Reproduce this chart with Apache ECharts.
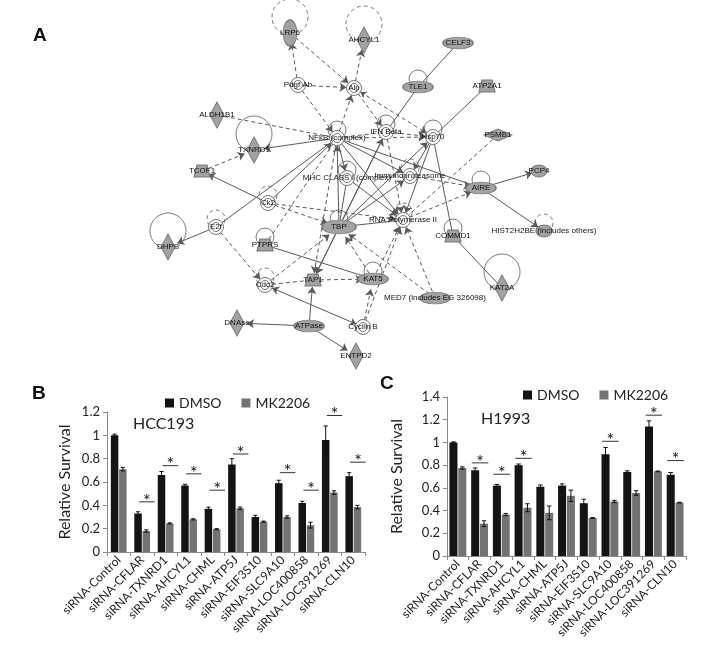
<!DOCTYPE html>
<html><head><meta charset="utf-8">
<script src="https://cdn.jsdelivr.net/npm/echarts@6/dist/echarts.min.js"></script>
<style>html,body{margin:0;padding:0;background:#fff}#c{width:703px;height:648px}</style>
</head><body><div id="c"></div>
<script>
// ---------- Panel A: network ----------
const nodes = ['LRP6','AHCYL1','CELF3','TLE1','ATP2A1','Pdgf Ab','Alp','ALDH1B1','TXNRD1','NFkB (complex)','IFN Beta','Hsp70','PSMB1','TCOF1','MHC CLASS I (complex)','Immunoproteasome','Ck2','E2f','DHPS','PTPRS','TBP','RNA Polymerase II','COMMD1','AIRE','PCP4','HIST2H2BE (includes others)','KAT2A','MED7 (includes EG 326098)','Cdc2','TAP1','KAT5','DNAse','ATPase','Cyclin B','ENTPD2'];
const nodeX = [290,364,458,418,487,298,354,217,254,337,386,433,498,202,347,410,268,216,168,265,339,403,453,481,539,544,502,435,265,313,373,237,309,363,356];
const nodeY = [33,40,43,87,86,85,88,115,150,138,132,137,135,171,178,176,203,227,247,245,227,220,236,188,171,231,288,298,285,280,279,323,326,327,356];
const nodeKind = ['vellipse','diamond','ellipse','ellipse','trap','ring','ring','diamond','diamond','ring','ring','ring','hdiamond','trap','ring','ring','ring','ring','diamond','trap','bigellipse','ring','trap','ellipse','smallellipse','smallellipse','diamond','ellipse','ring','trap','ellipse','diamond','ellipse','ring','diamond'];
const bigDashedLoops = ['LRP6','AHCYL1'];
const bigSolidLoops = ['TXNRD1','DHPS','KAT2A'];
const smallSolidLoops = ['TLE1','NFkB (complex)','IFN Beta','Hsp70','PTPRS','TBP','COMMD1','AIRE','KAT5','MHC CLASS I (complex)'];
const smallDashedLoops = ['Ck2','E2f','Cdc2','HIST2H2BE (includes others)','RNA Polymerase II','Immunoproteasome'];
const edges = [
 ['Pdgf Ab','LRP6','dashed','to'],['Pdgf Ab','Alp','dashed','to'],['LRP6','Alp','dashed','to'],
 ['Alp','AHCYL1','dashed','to'],['NFkB (complex)','Alp','dashed','to'],['Pdgf Ab','NFkB (complex)','dashed','to'],
 ['Alp','Hsp70','dashed','both'],['Alp','IFN Beta','dashed','to'],['CELF3','TLE1','solid','none'],
 ['TLE1','IFN Beta','solid','none'],['ATP2A1','Hsp70','solid','none'],['PSMB1','RNA Polymerase II','dashed','none'],
 ['ALDH1B1','NFkB (complex)','dashed','none'],['NFkB (complex)','TXNRD1','solid','to'],['TCOF1','TXNRD1','dashed','to'],
 ['Ck2','TCOF1','solid','to'],['NFkB (complex)','IFN Beta','dashed','none'],['IFN Beta','Hsp70','dashed','to'],
 ['NFkB (complex)','Hsp70','dashed','to'],['NFkB (complex)','MHC CLASS I (complex)','solid','to'],
 ['NFkB (complex)','Immunoproteasome','solid','to'],['NFkB (complex)','RNA Polymerase II','solid','to'],
 ['TBP','NFkB (complex)','solid','to'],['NFkB (complex)','TAP1','dashed','to'],['Ck2','NFkB (complex)','solid','to'],
 ['E2f','NFkB (complex)','solid','none'],['E2f','DHPS','solid','to'],['E2f','Cdc2','dashed','to'],
 ['Ck2','TBP','dashed','to'],['Ck2','RNA Polymerase II','dashed','to'],['PTPRS','NFkB (complex)','dashed','none'],
 ['PTPRS','KAT5','solid','none'],['TBP','MHC CLASS I (complex)','solid','none'],['TBP','Immunoproteasome','solid','to'],
 ['TBP','IFN Beta','solid','to'],['TBP','Hsp70','solid','to'],['TBP','RNA Polymerase II','solid','none'],
 ['TBP','TAP1','solid','to'],['MED7 (includes EG 326098)','TBP','dashed','to'],['KAT5','TBP','dashed','to'],
 ['TAP1','KAT5','dashed','to'],['Cdc2','TAP1','dashed','none'],['Cdc2','TBP','dashed','to'],
 ['Cyclin B','Cdc2','solid','both'],['ATPase','TAP1','solid','to'],['ATPase','DNAse','solid','to'],
 ['ATPase','ENTPD2','solid','to'],['KAT5','RNA Polymerase II','dashed','to'],['Cyclin B','KAT5','dashed','to'],
 ['Cyclin B','RNA Polymerase II','dashed','to'],['MED7 (includes EG 326098)','RNA Polymerase II','dashed','to'],
 ['RNA Polymerase II','AIRE','dashed','to'],['Immunoproteasome','AIRE','dashed','to'],['NFkB (complex)','AIRE','solid','none'],
 ['Hsp70','COMMD1','solid','none'],['AIRE','PCP4','solid','to'],['AIRE','HIST2H2BE (includes others)','solid','to'],
 ['COMMD1','KAT2A','solid','none'],['IFN Beta','RNA Polymerase II','dashed','to'],['Hsp70','RNA Polymerase II','solid','to'],
 ['Hsp70','Immunoproteasome','solid','to'],['MHC CLASS I (complex)','RNA Polymerase II','solid','to'],['IFN Beta','TAP1','solid','to']
];

// ---------- Panels B & C: bars ----------
const categories = ['siRNA-Control','siRNA-CFLAR','siRNA-TXNRD1','siRNA-AHCYL1','siRNA-CHML','siRNA-ATP5J','siRNA-EIF3S10','siRNA-SLC9A10','siRNA-LOC400858','siRNA-LOC391269','siRNA-CLN10'];
const hccDMSO = [1.00,0.33,0.66,0.57,0.37,0.75,0.30,0.59,0.42,0.96,0.65];
const hccDMSOErr = [0.01,0.015,0.03,0.01,0.015,0.05,0.015,0.025,0.015,0.12,0.03];
const hccMK = [0.71,0.18,0.245,0.28,0.195,0.375,0.26,0.30,0.23,0.51,0.385];
const hccMKErr = [0.015,0.01,0.005,0.005,0.005,0.01,0.005,0.01,0.025,0.015,0.015];
const hccSig = [null,0.43,0.74,0.67,0.53,0.84,null,0.68,0.53,1.17,0.77];
const hDMSO = [1.00,0.755,0.62,0.80,0.61,0.62,0.465,0.895,0.74,1.14,0.715];
const hDMSOErr = [0.005,0.02,0.01,0.01,0.015,0.015,0.035,0.06,0.01,0.05,0.02];
const hMK = [0.775,0.285,0.365,0.425,0.38,0.53,0.335,0.48,0.555,0.745,0.47];
const hMKErr = [0.01,0.025,0.01,0.035,0.06,0.05,0.003,0.01,0.02,0.003,0.003];
const hSig = [null,0.82,0.72,0.86,null,null,null,1.01,null,1.24,0.84];
const yTicksB = {min:0,max:1.2,interval:0.2};
const yTicksC = {min:0,max:1.4,interval:0.2};

// ---------- styles ----------
const FONT = 'Lato';
const NODE_FILL = '#a2a2a2', NODE_BORDER = '#777';
const ringPath = 'path://M0,10 A10,10 0 1,1 20,10 A10,10 0 1,1 0,10 Z M4,10 A6,6 0 1,1 16,10 A6,6 0 1,1 4,10 Z';
const trapPath = 'path://M3,0 L13,0 L16,12 L0,12 Z';
const kindStyle = {
  ellipse:{symbol:'circle',size:[30,12],fill:NODE_FILL},
  bigellipse:{symbol:'circle',size:[34,14],fill:NODE_FILL},
  smallellipse:{symbol:'circle',size:[16,12],fill:NODE_FILL},
  vellipse:{symbol:'circle',size:[14,26],fill:NODE_FILL},
  diamond:{symbol:'diamond',size:[14,26],fill:NODE_FILL},
  hdiamond:{symbol:'diamond',size:[28,12],fill:NODE_FILL},
  ring:{symbol:ringPath,size:[15,15],fill:'#ffffff'},
  trap:{symbol:trapPath,size:[16,12],fill:NODE_FILL}
};
const nodeData = nodes.map((n,i)=>{
  const k = kindStyle[nodeKind[i]];
  return {name:n, value:[nodeX[i],nodeY[i]], symbol:k.symbol, symbolSize:k.size,
    itemStyle:{color:k.fill,borderColor:NODE_BORDER,borderWidth:1}};
});
const linkData = edges.map(e=>({source:e[0],target:e[1],
  symbol: e[3]==='to'?['none','arrow']:(e[3]==='both'?['arrow','arrow']:['none','none']),
  lineStyle:{type: e[2]==='dashed'?[4,3]:'solid'}}));
function loopPts(list){return list.map(n=>{const i=nodes.indexOf(n);return [nodeX[i],nodeY[i]];});}
function loopSeries(list,size,off,dashed){
  return {type:'scatter',xAxisIndex:0,yAxisIndex:0,data:loopPts(list),symbol:'circle',symbolSize:size,
    symbolOffset:[0,off],silent:true,z:1,
    itemStyle:{color:'rgba(0,0,0,0)',borderColor:'#5a5a5a',borderWidth:1,borderType:dashed?[4,3]:'solid'}};
}

function errSeries(xi,yi,vals,errs,sign,barFrac,gapFrac){
  return {type:'custom',xAxisIndex:xi,yAxisIndex:yi,silent:true,z:5,
    data: vals.map((v,i)=>[i,v,errs[i]]),
    encode:{x:0,y:1},
    renderItem:function(params,api){
      const i=api.value(0),v=api.value(1),e=api.value(2);
      const band=api.size([1,0])[0];
      const w=band*barFrac, shift=(w+w*gapFrac)/2*sign;
      const t=api.coord([i,v+e]), b=api.coord([i,v-e]);
      const x=t[0]+shift, cap=w*0.28;
      const st={stroke:'#111',lineWidth:1};
      return {type:'group',children:[
        {type:'line',shape:{x1:x,y1:t[1],x2:x,y2:b[1]},style:st},
        {type:'line',shape:{x1:x-cap,y1:t[1],x2:x+cap,y2:t[1]},style:st},
        {type:'line',shape:{x1:x-cap,y1:b[1],x2:x+cap,y2:b[1]},style:st}]};
    }};
}
function sigSeries(xi,yi,sig,centerOff,halfLen){
  const d=[];sig.forEach((s,i)=>{if(s!==null)d.push([i,s]);});
  return {type:'custom',xAxisIndex:xi,yAxisIndex:yi,silent:true,z:5,data:d,encode:{x:0,y:1},
    renderItem:function(params,api){
      const p=api.coord([api.value(0),api.value(1)]);
      const band=api.size([1,0])[0];
      const cx=p[0]+band*centerOff;
      return {type:'group',children:[
        {type:'line',shape:{x1:cx-band*halfLen,y1:p[1],x2:cx+band*halfLen,y2:p[1]},style:{stroke:'#333',lineWidth:1}},
        {type:'text',style:{text:'*',x:cx,y:p[1]-1,align:'center',verticalAlign:'middle',fontSize:18,fontFamily:FONT,fill:'#111'}}]};
    }};
}
function catAxis(gi){
  return {type:'category',gridIndex:gi,data:categories,
    axisLine:{lineStyle:{color:'#8a8a8a'}},axisTick:{show:true,length:4,lineStyle:{color:'#8a8a8a'}},
    axisLabel:{rotate:45,interval:0,fontSize:12,color:'#222',fontFamily:FONT,margin:6}};
}
function valAxis(gi,t,gap){
  return {type:'value',gridIndex:gi,min:t.min,max:t.max,interval:t.interval,
    name:'Relative Survival',nameLocation:'middle',nameGap:gap,
    nameTextStyle:{fontSize:16,color:'#222',fontFamily:FONT},
    axisLine:{show:true,lineStyle:{color:'#8a8a8a'}},axisTick:{show:true,length:4,lineStyle:{color:'#8a8a8a'}},
    splitLine:{show:false},axisLabel:{fontSize:13,color:'#222',fontFamily:FONT,margin:7}};
}
const DMSO_C='#141414', MK_C='#737373';
const B_BAR='32%', C_BAR='37%';

const option = {
  animation:false,
  backgroundColor:'#fff',
  grid:[
    {left:0,top:0,width:703,height:370},
    {left:107,top:412,width:258,height:140},
    {left:447,top:397,width:239,height:159}
  ],
  xAxis:[
    {type:'value',gridIndex:0,min:0,max:703,show:false},
    catAxis(1),catAxis(2)
  ],
  yAxis:[
    {type:'value',gridIndex:0,min:0,max:370,inverse:true,show:false},
    valAxis(1,yTicksB,34),valAxis(2,yTicksC,42)
  ],
  legend:[
    {left:160,top:391,itemWidth:9,itemHeight:9,itemGap:20,icon:'rect',data:['DMSO','MK2206'],
      textStyle:{fontSize:14,color:'#222',fontFamily:FONT}},
    {left:518,top:383,itemWidth:9,itemHeight:9,itemGap:20,icon:'rect',data:['DMSO','MK2206'],
      textStyle:{fontSize:14,color:'#222',fontFamily:FONT}}
  ],
  graphic:[
    {type:'text',left:33,top:26,style:{text:'A',fontSize:19,fontWeight:'bold',fontFamily:'Liberation Sans',fill:'#111'}},
    {type:'text',left:32,top:384,style:{text:'B',fontSize:19,fontWeight:'bold',fontFamily:'Liberation Sans',fill:'#111'}},
    {type:'text',left:380,top:374,style:{text:'C',fontSize:19,fontWeight:'bold',fontFamily:'Liberation Sans',fill:'#111'}},
    {type:'text',left:133,top:416,style:{text:'HCC193',fontSize:16,fontFamily:FONT,fill:'#222'}},
    {type:'text',left:481,top:411,style:{text:'H1993',fontSize:16,fontFamily:FONT,fill:'#222'}}
  ],
  series:[
    loopSeries(bigDashedLoops,36,-16,true),
    loopSeries(bigSolidLoops,36,-16,false),
    loopSeries(smallSolidLoops,18,-8,false),
    loopSeries(smallDashedLoops,18,-8,true),
    {type:'graph',coordinateSystem:'cartesian2d',xAxisIndex:0,yAxisIndex:0,z:3,silent:true,
      data:nodeData,links:linkData,edgeSymbolSize:[6,7],
      lineStyle:{color:'#5a5a5a',width:1,opacity:1,curveness:0},
      label:{show:true,position:'inside',fontSize:8,color:'#111',fontFamily:'Liberation Sans'},
      emphasis:{disabled:true}},
    {name:'DMSO',type:'bar',xAxisIndex:1,yAxisIndex:1,data:hccDMSO,barWidth:B_BAR,barGap:'10%',itemStyle:{color:DMSO_C}},
    {name:'MK2206',type:'bar',xAxisIndex:1,yAxisIndex:1,data:hccMK,barWidth:B_BAR,barGap:'10%',itemStyle:{color:MK_C}},
    errSeries(1,1,hccDMSO,hccDMSOErr,-1,0.32,0.1),
    errSeries(1,1,hccMK,hccMKErr,1,0.32,0.1),
    sigSeries(1,1,hccSig,0.2,0.33),
    {name:'DMSO',type:'bar',xAxisIndex:2,yAxisIndex:2,data:hDMSO,barWidth:C_BAR,barGap:'10%',itemStyle:{color:DMSO_C}},
    {name:'MK2206',type:'bar',xAxisIndex:2,yAxisIndex:2,data:hMK,barWidth:C_BAR,barGap:'10%',itemStyle:{color:MK_C}},
    errSeries(2,2,hDMSO,hDMSOErr,-1,0.37,0.1),
    errSeries(2,2,hMK,hMKErr,1,0.37,0.1),
    sigSeries(2,2,hSig,0.02,0.38)
  ]
};
const chart = echarts.init(document.getElementById('c'),null,{renderer:'canvas'});
chart.setOption(option);
</script></body></html>
